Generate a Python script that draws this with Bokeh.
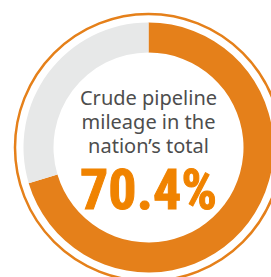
import math
from bokeh.plotting import figure
from bokeh.models import Range1d
from bokeh.core.properties import value
from bokeh.embed import file_html
from bokeh.resources import INLINE

# data
share_value = 70.4          # percent
rest_value = 100 - share_value
label_lines = ["Crude pipeline", "mileage in the", "nation\u2019s total"]
value_label = "70.4%"

ORANGE = "#E5801A"
TEXT_ORANGE = "#F08300"
GRAY = "#E7E8E8"
TEXT_GRAY = "#4D4D4D"

W, H = 271, 277
p = figure(width=W, height=H, output_backend="svg", toolbar_location=None,
           x_range=Range1d(0, W), y_range=Range1d(0, H), min_border=0)
p.axis.visible = False
p.grid.visible = False
p.outline_line_color = None
p.background_fill_color = "white"
p.border_fill_color = "white"

cx, cy = 148, 277 - 147
r_in, r_out, r_line = 95, 125, 133.5

top = math.pi / 2
share_angle = 2 * math.pi * share_value / 100
rest_angle = 2 * math.pi * rest_value / 100

p.annular_wedge(x=[cx], y=[cy], inner_radius=r_in, outer_radius=r_out,
                start_angle=[top - share_angle], end_angle=[top],
                fill_color=ORANGE, line_color=None)
p.annular_wedge(x=[cx], y=[cy], inner_radius=r_in, outer_radius=r_out,
                start_angle=[top], end_angle=[top + rest_angle],
                fill_color=GRAY, line_color=None)
p.circle(x=[cx], y=[cy], radius=r_line, fill_color=None,
         line_color=ORANGE, line_width=2.5)

ys = [277 - 97, 277 - 121, 277 - 145]
p.text(x=[cx] * 3, y=ys, text=label_lines, text_align="center",
       text_baseline="alphabetic", text_font=value("Noto Sans"),
       text_font_size="20px", text_color=TEXT_GRAY)
p.text(x=[cx], y=[277 - 189], text=[value_label], text_align="center",
       text_baseline="alphabetic", text_font=value("Roboto Condensed"),
       text_font_style="bold", text_font_size="56px", text_color=TEXT_ORANGE,
       text_outline_color=TEXT_ORANGE)

open("out.html", "w").write(file_html(p, INLINE))
